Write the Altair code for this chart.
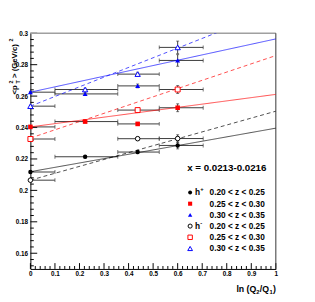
import altair as alt
import pandas as pd
import numpy as np

# ---------------- data ----------------
x_centers = [0.0, 0.223, 0.437, 0.6]
x_lo = [0.0, 0.1, 0.356, 0.525]
x_hi = [0.1, 0.356, 0.525, 0.704]

series_names = ["h+ 0.20<z<0.25", "h+ 0.25<z<0.30", "h+ 0.30<z<0.35",
                "h- 0.20<z<0.25", "h- 0.25<z<0.30", "h- 0.30<z<0.35"]
series_idx = [[0, 1, 2, 3], [0, 1, 2, 3], [0, 1, 2, 3],
              [0, 2, 3], [0, 2, 3], [0, 1, 2, 3]]
series_y = [
    [0.2117, 0.2214, 0.2244, 0.2286],
    [0.2404, 0.2438, 0.2423, 0.2526],
    [0.2625, 0.2614, 0.2665, 0.2827],
    [0.2065, 0.2329, 0.2330],
    [0.2327, 0.2511, 0.2642],
    [0.2536, 0.2642, 0.2740, 0.2910],
]
series_err = [
    [0.0005, 0.0008, 0.0010, 0.0022],
    [0.0005, 0.0008, 0.0010, 0.0025],
    [0.0005, 0.0008, 0.0012, 0.0037],
    [0.0005, 0.0010, 0.0024],
    [0.0005, 0.0010, 0.0025],
    [0.0005, 0.0008, 0.0012, 0.0040],
]
fit_x = [0.0, 1.0]
fit_y = [
    [0.2119, 0.2396],
    [0.2404, 0.2611],
    [0.2625, 0.2964],
    [0.2065, 0.2504],
    [0.2333, 0.2858],
    [0.2536, 0.3152],
]
series_color = ["#000000", "#ff0000", "#0000ff", "#000000", "#ff0000", "#0000ff"]
series_shape = ["circle", "square", "triangle-up", "circle", "square", "triangle-up"]
series_filled = [True, True, True, False, False, False]
series_size = [20, 22, 26, 22, 26, 30]
series_dash = [[1, 0], [1, 0], [1, 0], [4, 3], [4, 3], [4, 3]]

legend_ranges = ["0.20 < z < 0.25", "0.25 < z < 0.30", "0.30 < z < 0.35",
                 "0.20 < z < 0.25", "0.25 < z < 0.30", "0.30 < z < 0.35"]
legend_title = "x = 0.0213-0.0216"

x_label_values = [0, 0.1, 0.2, 0.3, 0.4, 0.5, 0.6, 0.7, 0.8, 0.9, 1.0]
y_label_values = [0.16, 0.18, 0.2, 0.22, 0.24, 0.26, 0.28, 0.3]

# ---------------- layout ----------------
W, H = 252, 242
FONT = "Liberation Sans"
xs = alt.Scale(domain=[0, 1], nice=False, zero=False)
ys = alt.Scale(domain=[0.15, 0.3], nice=False, zero=False)
xaxis = alt.Axis(values=x_label_values, format="~g", ticks=False, grid=False,
                 domainColor="#000000", domainWidth=1, labelFont=FONT,
                 labelFontSize=6.5, labelFontWeight="bold", labelColor="#000000",
                 labelPadding=2, labelFlush=False, labelOverlap=False, title="")
yaxis = alt.Axis(values=y_label_values, format="~g", ticks=False, grid=False,
                 domainColor="#000000", domainWidth=1, labelFont=FONT,
                 labelFontSize=6.5, labelFontWeight="bold", labelColor="#000000",
                 labelPadding=3, labelFlush=False, labelOverlap=False, title="")


def X(field):
    return alt.X(field, type="quantitative", scale=xs, axis=xaxis, title="")


def Y(field):
    return alt.Y(field, type="quantitative", scale=ys, axis=yaxis, title="")


def txt(s, x, y, size, align="left", angle=0):
    kw = dict(text=s, font=FONT, fontSize=size, fontWeight="bold", align=align,
              baseline="middle", color="#000000")
    if angle:
        kw["angle"] = angle
    return alt.Chart(one).mark_text(**kw).encode(x=alt.value(x), y=alt.value(y))


def marker(k, size):
    if series_filled[k]:
        return dict(shape=series_shape[k], filled=True, color=series_color[k],
                    size=size, opacity=1)
    return dict(shape=series_shape[k], filled=True, fill="#ffffff", stroke=series_color[k],
                strokeWidth=1, size=size, opacity=1)


rows = []
for k, name in enumerate(series_names):
    for j, i in enumerate(series_idx[k]):
        rows.append({"series": name, "x": x_centers[i], "xlo": x_lo[i], "xhi": x_hi[i],
                     "y": series_y[k][j],
                     "ylo": series_y[k][j] - series_err[k][j],
                     "yhi": series_y[k][j] + series_err[k][j]})
pts = pd.DataFrame(rows)

one = pd.DataFrame({"a": [0]})
layers = []

# axis ticks drawn inside the frame (ROOT style)
ymaj = pd.DataFrame({"v": y_label_values})
ymin = pd.DataFrame({"v": [v for v in np.round(np.arange(0.152, 0.3, 0.004), 4)
                           if all(abs(v - m) > 1e-6 for m in y_label_values)]})
xmaj = pd.DataFrame({"v": x_label_values})
xmin = pd.DataFrame({"v": [v for v in np.round(np.arange(0.02, 1.0, 0.02), 3)
                           if all(abs(v - m) > 1e-6 for m in x_label_values)]})
layers.append(alt.Chart(ymaj).mark_rule(color="#000000", strokeWidth=1).encode(
    y=Y("v"), x=alt.value(0), x2=alt.value(7)))
layers.append(alt.Chart(ymin).mark_rule(color="#000000", strokeWidth=1).encode(
    y=Y("v"), x=alt.value(0), x2=alt.value(3.5)))
layers.append(alt.Chart(xmaj).mark_rule(color="#000000", strokeWidth=1).encode(
    x=X("v"), y=alt.value(H), y2=alt.value(H - 6)))
layers.append(alt.Chart(xmin).mark_rule(color="#000000", strokeWidth=1).encode(
    x=X("v"), y=alt.value(H), y2=alt.value(H - 3)))

# frame top / right
layers.append(alt.Chart(one).mark_rule(color="#a0a0a0", strokeWidth=1.5).encode(
    x=alt.value(0), x2=alt.value(W), y=alt.value(0)))
layers.append(alt.Chart(one).mark_rule(color="#333333", strokeWidth=1).encode(
    x=alt.value(W), y=alt.value(0), y2=alt.value(H)))

# error bars
EB = "#3a3a3a"
layers.append(alt.Chart(pts).mark_rule(color=EB, strokeWidth=1).encode(
    x=X("xlo"), x2="xhi", y=Y("y")))
layers.append(alt.Chart(pts).mark_tick(color=EB, orient="vertical", size=4, thickness=1).encode(
    x=X("xlo"), y=Y("y")))
layers.append(alt.Chart(pts).mark_tick(color=EB, orient="vertical", size=4, thickness=1).encode(
    x=X("xhi"), y=Y("y")))
layers.append(alt.Chart(pts).mark_rule(color=EB, strokeWidth=1).encode(
    x=X("x"), y=Y("ylo"), y2="yhi"))
layers.append(alt.Chart(pts).mark_tick(color=EB, orient="horizontal", size=3, thickness=1).encode(
    x=X("x"), y=Y("ylo")))
layers.append(alt.Chart(pts).mark_tick(color=EB, orient="horizontal", size=3, thickness=1).encode(
    x=X("x"), y=Y("yhi")))

# fit lines
for k, name in enumerate(series_names):
    df = pd.DataFrame({"x": fit_x, "y": fit_y[k]})
    layers.append(alt.Chart(df).mark_line(color=series_color[k], strokeWidth=1, opacity=0.7,
                                          strokeDash=series_dash[k], clip=True).encode(
        x=X("x"), y=Y("y")))

# markers
for k, name in enumerate(series_names):
    df = pts[pts["series"] == name]
    layers.append(alt.Chart(df).mark_point(**marker(k, series_size[k])).encode(
        x=X("x"), y=Y("y")))

# legend
LX, LY0, LDY = 164, 163.5, 11.5
layers.append(txt(legend_title, 161, 138, 10))
for k in range(len(series_names)):
    yy = LY0 + k * LDY
    layers.append(alt.Chart(one).mark_point(**marker(k, series_size[k] * 0.8)).encode(
        x=alt.value(LX), y=alt.value(yy)))
    layers.append(txt(legend_ranges[k], 184, yy, 8.5))
for k, sign in [(0, "+"), (3, "-")]:
    yy = LY0 + k * LDY
    layers.append(txt("h", 169, yy, 8.5))
    layers.append(txt(sign, 174.5, yy - 3.5, 6))

# x axis title: ln (Q2/Q1)
layers.append(txt("ln (Q", W - 20, 263, 9, align="right"))
layers.append(txt("2", W - 20, 266, 6))
layers.append(txt("/Q", W - 16.5, 263, 9))
layers.append(txt("1", W - 6.5, 266, 6))
layers.append(txt(")", W - 3, 263, 9))

# y axis title: <p_T^2> (GeV/c)^2
TX = -16
layers.append(txt("<p", TX, 63, 8, angle=270))
layers.append(txt("2", TX - 4, 50, 5.5, align="center", angle=270))
layers.append(txt("T", TX + 3.5, 50, 5.5, align="center", angle=270))
layers.append(txt("> (GeV/c)", TX, 46, 8, angle=270))
layers.append(txt("2", TX - 4, 7, 5.5, align="center", angle=270))

chart = alt.layer(*layers).properties(
    width=W, height=H,
    autosize=alt.AutoSizeParams(type="none"),
    padding={"left": 23, "top": 22, "right": 32, "bottom": 30},
    background="#ffffff",
).configure_view(strokeWidth=0)

chart.save("out.html", embed_options={"renderer": "svg", "actions": False})
